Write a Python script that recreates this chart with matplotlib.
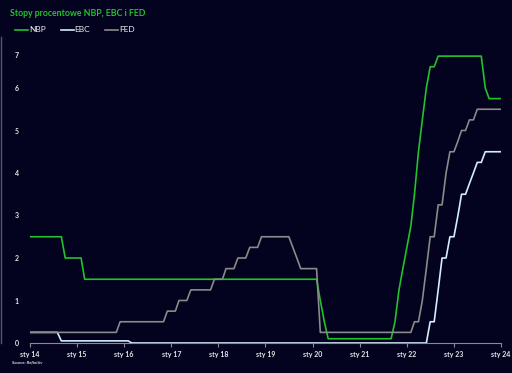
import matplotlib
matplotlib.use("Agg")
import matplotlib.pyplot as plt
import matplotlib.transforms as mtransforms
from matplotlib.lines import Line2D
import pandas as pd

# miesięczne stopy procentowe, sty 2014 - sty 2024
miesiace = pd.date_range("2014-01-01", "2024-01-01", freq="MS")

nbp = (
    [2.5, 2.5, 2.5, 2.5, 2.5, 2.5, 2.5, 2.5, 2.5, 2.0, 2.0, 2.0]          # 2014
    + [2.0, 2.0, 1.5, 1.5, 1.5, 1.5, 1.5, 1.5, 1.5, 1.5, 1.5, 1.5]        # 2015
    + [1.5, 1.5, 1.5, 1.5, 1.5, 1.5, 1.5, 1.5, 1.5, 1.5, 1.5, 1.5]        # 2016
    + [1.5, 1.5, 1.5, 1.5, 1.5, 1.5, 1.5, 1.5, 1.5, 1.5, 1.5, 1.5]        # 2017
    + [1.5, 1.5, 1.5, 1.5, 1.5, 1.5, 1.5, 1.5, 1.5, 1.5, 1.5, 1.5]        # 2018
    + [1.5, 1.5, 1.5, 1.5, 1.5, 1.5, 1.5, 1.5, 1.5, 1.5, 1.5, 1.5]        # 2019
    + [1.5, 1.5, 1.0, 0.5, 0.1, 0.1, 0.1, 0.1, 0.1, 0.1, 0.1, 0.1]        # 2020
    + [0.1, 0.1, 0.1, 0.1, 0.1, 0.1, 0.1, 0.1, 0.1, 0.5, 1.25, 1.75]      # 2021
    + [2.25, 2.75, 3.5, 4.5, 5.25, 6.0, 6.5, 6.5, 6.75, 6.75, 6.75, 6.75]  # 2022
    + [6.75, 6.75, 6.75, 6.75, 6.75, 6.75, 6.75, 6.75, 6.0, 5.75, 5.75, 5.75]  # 2023
    + [5.75]                                                               # 2024
)

ebc = (
    [0.25, 0.25, 0.25, 0.25, 0.25, 0.25, 0.25, 0.25, 0.05, 0.05, 0.05, 0.05]
    + [0.05, 0.05, 0.05, 0.05, 0.05, 0.05, 0.05, 0.05, 0.05, 0.05, 0.05, 0.05]
    + [0.05, 0.05, 0.0, 0.0, 0.0, 0.0, 0.0, 0.0, 0.0, 0.0, 0.0, 0.0]
    + [0.0, 0.0, 0.0, 0.0, 0.0, 0.0, 0.0, 0.0, 0.0, 0.0, 0.0, 0.0]
    + [0.0, 0.0, 0.0, 0.0, 0.0, 0.0, 0.0, 0.0, 0.0, 0.0, 0.0, 0.0]
    + [0.0, 0.0, 0.0, 0.0, 0.0, 0.0, 0.0, 0.0, 0.0, 0.0, 0.0, 0.0]
    + [0.0, 0.0, 0.0, 0.0, 0.0, 0.0, 0.0, 0.0, 0.0, 0.0, 0.0, 0.0]
    + [0.0, 0.0, 0.0, 0.0, 0.0, 0.0, 0.0, 0.0, 0.0, 0.0, 0.0, 0.0]
    + [0.0, 0.0, 0.0, 0.0, 0.0, 0.0, 0.5, 0.5, 1.25, 2.0, 2.0, 2.5]
    + [2.5, 3.0, 3.5, 3.5, 3.75, 4.0, 4.25, 4.25, 4.5, 4.5, 4.5, 4.5]
    + [4.5]
)

fed = (
    [0.25, 0.25, 0.25, 0.25, 0.25, 0.25, 0.25, 0.25, 0.25, 0.25, 0.25, 0.25]
    + [0.25, 0.25, 0.25, 0.25, 0.25, 0.25, 0.25, 0.25, 0.25, 0.25, 0.25, 0.5]
    + [0.5, 0.5, 0.5, 0.5, 0.5, 0.5, 0.5, 0.5, 0.5, 0.5, 0.5, 0.75]
    + [0.75, 0.75, 1.0, 1.0, 1.0, 1.25, 1.25, 1.25, 1.25, 1.25, 1.25, 1.5]
    + [1.5, 1.5, 1.75, 1.75, 1.75, 2.0, 2.0, 2.0, 2.25, 2.25, 2.25, 2.5]
    + [2.5, 2.5, 2.5, 2.5, 2.5, 2.5, 2.5, 2.25, 2.0, 1.75, 1.75, 1.75]
    + [1.75, 1.75, 0.25, 0.25, 0.25, 0.25, 0.25, 0.25, 0.25, 0.25, 0.25, 0.25]
    + [0.25, 0.25, 0.25, 0.25, 0.25, 0.25, 0.25, 0.25, 0.25, 0.25, 0.25, 0.25]
    + [0.25, 0.25, 0.5, 0.5, 1.0, 1.75, 2.5, 2.5, 3.25, 3.25, 4.0, 4.5]
    + [4.5, 4.75, 5.0, 5.0, 5.25, 5.25, 5.5, 5.5, 5.5, 5.5, 5.5, 5.5]
    + [5.5]
)

lata = pd.date_range("2014-01-01", "2024-01-01", freq="YS")
etykiety_x = ["sty 14", "sty 15", "sty 16", "sty 17", "sty 18", "sty 19",
              "sty 20", "sty 21", "sty 22", "sty 23", "sty 24"]
poziomy_y = [0, 1, 2, 3, 4, 5, 6, 7]

tlo = "#03031f"
zielony = "#22c22b"
niebieski = "#d4eefa"
szary = "#8a8a8a"

plt.rcParams["font.family"] = ["Lato", "DejaVu Sans"]

fig = plt.figure(figsize=(5.12, 3.73), dpi=100, facecolor=tlo)
ax = fig.add_axes([30 / 512, 30 / 373, 471 / 512, 297.5 / 373])
ax.set_facecolor(tlo)

ax.plot(miesiace, nbp, color=zielony, lw=1.2, label="NBP", zorder=3)
ax.plot(miesiace, ebc, color=niebieski, lw=1.2, label="EBC", zorder=4)
ax.plot(miesiace, fed, color=szary, lw=1.2, label="FED", zorder=5)

ax.set_xlim(miesiace[0], miesiace[-1])
ax.set_ylim(0, 7)
ax.set_xticks(lata)
ax.set_xticklabels(etykiety_x)
ax.set_yticks(poziomy_y)
ax.set_yticklabels([str(v) for v in poziomy_y])

for s in ["top", "right", "left"]:
    ax.spines[s].set_visible(False)
ax.spines["bottom"].set_color(szary)
ax.spines["bottom"].set_linewidth(0.8)
ax.spines["bottom"].set_zorder(1)
ax.tick_params(axis="x", colors=szary, length=3, width=0.8, pad=3,
               labelsize=5, labelcolor="#e6e6e6")
ax.tick_params(axis="y", length=0, pad=8, labelsize=5, labelcolor="#e6e6e6")
for lab in ax.get_yticklabels() + ax.get_xticklabels():
    lab.set_fontweight("bold")

# etykieta "7" siedzi niżej niż jej poziom
ostatnia = ax.get_yticklabels()[-1]
ostatnia.set_transform(ostatnia.get_transform()
                       + mtransforms.ScaledTranslation(0, -0.095, fig.dpi_scale_trans))

fig.text(10 / 512, 1 - 13 / 373, "Stopy procentowe NBP, EBC i FED",
         color=zielony, fontsize=6.3, fontweight="bold", va="center", ha="left")

leg = fig.legend(loc="center left", bbox_to_anchor=(15 / 512, 1 - 30 / 373),
                 ncol=3, frameon=False, fontsize=6, handlelength=1.6,
                 handletextpad=0.1, columnspacing=1.75, borderpad=0,
                 borderaxespad=0)
for t in leg.get_texts():
    t.set_color("#f0f0f0")

fig.text(12 / 512, 1 - 363 / 373, "Source: Refinitiv", color="#dddddd",
         fontsize=3.2, fontstyle="italic", fontweight="bold", va="center")

fig.add_artist(Line2D([1 / 512, 1 / 512], [0.08, 0.9], color="#55556a", lw=1))

fig.savefig("out.png", dpi=100, facecolor=tlo)
